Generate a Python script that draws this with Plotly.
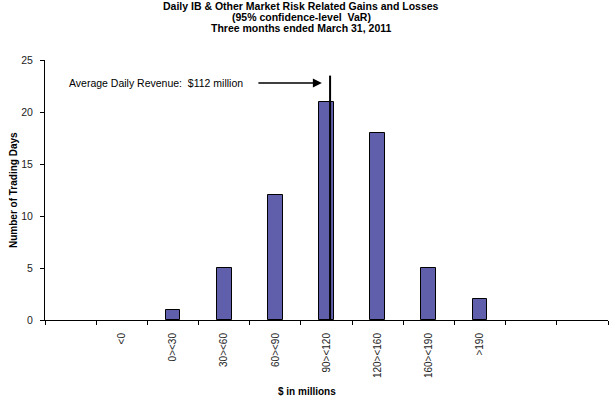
import plotly.graph_objects as go

# Data
categories = [" ", "<0", "0><30", "30><60", "60><90", "90><120", "120><160", "160><190", ">190", "  ", "   "]
trading_days = [None, 0, 1, 5, 12, 21, 18, 5, 2, None, None]
title_lines = ["Daily IB & Other Market Risk Related Gains and Losses",
               "(95% confidence-level  VaR)",
               "Three months ended March 31, 2011"]
avg_revenue_label = "Average Daily Revenue:  $112 million"
avg_line_x = 5.07     # position of the $112 million marker on the category scale
avg_line_top = 23.5

FONT = "Liberation Sans, Arial, sans-serif"

fig = go.Figure()
fig.add_trace(go.Bar(
    x=categories, y=trading_days,
    width=0.29,
    marker=dict(color="#5F5FAB",
                line=dict(color="#000000",
                          width=[1 if v else 0 for v in trading_days])),
    showlegend=False,
))

fig.add_shape(type="line", xref="x", yref="y",
              x0=avg_line_x, x1=avg_line_x, y0=0, y1=avg_line_top,
              line=dict(color="#000000", width=2))

# arrow
fig.add_annotation(x=4.91, y=22.8, ax=3.64, ay=22.8, xref="x", yref="y",
                   axref="x", ayref="y", text="", showarrow=True,
                   arrowhead=2, arrowsize=1.2, arrowwidth=1.5, arrowcolor="#000000")
fig.add_annotation(x=3.41, y=22.8, xref="x", yref="y", text=avg_revenue_label,
                   showarrow=False, xanchor="right", yanchor="middle",
                   font=dict(family=FONT, size=10.5, color="#000000"))

# title (three lines)
for line, ypix in zip(title_lines, [6, 17.5, 28.5]):
    fig.add_annotation(
        xref="paper", yref="paper", x=(301 - 45) / 563, y=1 + (60 - ypix) / 260,
        text="<b>" + line + "</b>", showarrow=False, xanchor="center", yanchor="middle",
        font=dict(family=FONT, size=10.5, color="#000000"),
    )
# axis titles
fig.add_annotation(xref="paper", yref="paper", x=(307 - 45) / 563, y=-(391 - 320) / 260,
                   text="<b>$ in millions</b>", showarrow=False, xanchor="center", yanchor="middle",
                   font=dict(family=FONT, size=10, color="#000000"))
fig.add_annotation(xref="paper", yref="paper", x=-(45 - 13) / 563, y=(320 - 190) / 260,
                   text="<b>Number of Trading Days</b>", showarrow=False, textangle=-90,
                   xanchor="center", yanchor="middle",
                   font=dict(family=FONT, size=10, color="#000000"))

fig.update_xaxes(
    type="category", range=[-0.5, 10.5], tickson="boundaries",
    ticks="outside", ticklen=4, tickcolor="#000000", tickangle=-90,
    ticklabelstandoff=8,
    showline=True, linecolor="#000000", linewidth=1, showgrid=False, zeroline=False,
    tickfont=dict(family=FONT, size=10, color="#222222"),
)
fig.update_yaxes(
    range=[0, 25], dtick=5, ticks="outside", ticklen=4, tickcolor="#000000",
    ticklabelstandoff=5,
    showline=True, linecolor="#000000", linewidth=1, showgrid=False, zeroline=False,
    tickfont=dict(family=FONT, size=10.5, color="#222222"),
)

fig.update_layout(
    width=609, height=397,
    margin=dict(l=45, r=1, t=60, b=77),
    plot_bgcolor="#FFFFFF", paper_bgcolor="#FFFFFF",
    bargap=0,
)

fig.write_html("out.html", config={"displayModeBar": False},
               post_script="document.body.style.margin='0';")
